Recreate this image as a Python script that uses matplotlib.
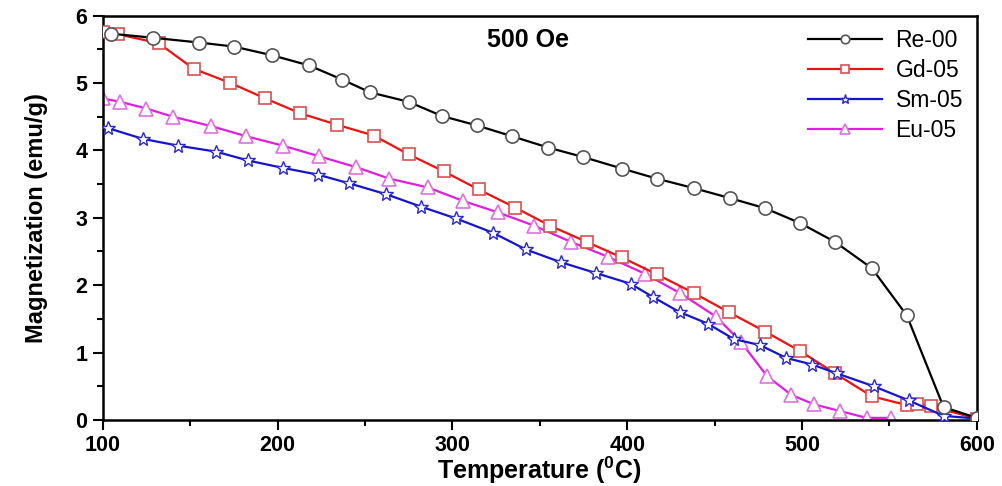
"""
Magnetization vs temperature at 500 Oe for the doped samples.
"""

import matplotlib
matplotlib.use('Agg')
import matplotlib.pyplot as plt
from matplotlib.ticker import MultipleLocator

plt.rcParams['font.family'] = ['Liberation Sans', 'DejaVu Sans']
plt.rcParams['mathtext.fontset'] = 'custom'
plt.rcParams['mathtext.rm'] = 'Liberation Sans:bold'
plt.rcParams['mathtext.bf'] = 'Liberation Sans:bold'

# Data
# ----------------------------------------------------------------------------

re_t = [105, 129, 155, 175, 197, 218, 237, 253, 275, 294, 314, 334, 355,
        375, 397, 417, 438, 459, 479, 499, 519, 540, 560, 581, 600]
re_m = [5.73, 5.67, 5.60, 5.54, 5.41, 5.26, 5.05, 4.86, 4.72, 4.51, 4.37,
        4.21, 4.04, 3.90, 3.73, 3.58, 3.44, 3.29, 3.14, 2.92, 2.64, 2.25,
        1.55, 0.19, 0.03]

gd_t = [100, 109, 132, 152, 173, 193, 213, 234, 255, 275, 295, 315, 336,
        356, 377, 397, 417, 438, 458, 479, 499, 519, 540, 560, 566, 574, 600]
gd_m = [5.76, 5.72, 5.59, 5.21, 5.00, 4.77, 4.55, 4.38, 4.22, 3.94, 3.69,
        3.42, 3.15, 2.88, 2.64, 2.41, 2.16, 1.885, 1.60, 1.31, 1.02, 0.69,
        0.35, 0.22, 0.24, 0.20, 0.02]

sm_t = [103, 123, 143, 165, 183, 203, 223, 241, 262, 282, 302, 323, 342,
        362, 382, 402, 415, 430, 446, 461, 476, 491, 506, 520, 541, 561,
        581, 600]
sm_m = [4.33, 4.17, 4.07, 3.98, 3.85, 3.74, 3.64, 3.51, 3.35, 3.165, 2.99,
        2.78, 2.53, 2.34, 2.18, 2.02, 1.82, 1.60, 1.43, 1.20, 1.11, 0.92,
        0.82, 0.69, 0.50, 0.29, 0.06, 0.02]

eu_t = [100, 110, 125, 140, 162, 182, 203, 224, 245, 264, 286, 306, 326,
        347, 368, 389, 410, 430, 451, 465, 480, 494, 507, 522, 537, 551]
eu_m = [4.77, 4.72, 4.62, 4.50, 4.36, 4.21, 4.07, 3.91, 3.75, 3.58, 3.45,
        3.25, 3.08, 2.88, 2.64, 2.42, 2.17, 1.885, 1.53, 1.16, 0.65, 0.37,
        0.23, 0.13, 0.03, 0.03]

# Plot
# ----------------------------------------------------------------------------

fig = plt.figure(figsize=(10.02, 4.86), dpi=100)
ax = fig.add_axes([0.1025, 0.136, 0.8723, 0.832])

ax.plot(re_t, re_m, '-o', color='black', lw=1.6, ms=9.5, mfc='white',
        mec='#555555', mew=1.2, label='Re-00', zorder=5)
ax.plot(gd_t, gd_m, '-s', color='#ee1111', lw=1.6, ms=8.5, mfc='white',
        mec='#d85050', mew=1.2, label='Gd-05', zorder=3)
ax.plot(sm_t, sm_m, '-*', color='#1515cc', lw=1.6, ms=10.5, mfc='white',
        mec='#2a2acc', mew=1.0, label='Sm-05', zorder=4)
ax.plot(eu_t, eu_m, '-^', color='#e01ee0', lw=1.6, ms=10.5, mfc='white',
        mec='#e070e0', mew=1.2, label='Eu-05', zorder=2)

ax.set_xlim(100, 600)
ax.set_ylim(0, 6)
ax.xaxis.set_major_locator(MultipleLocator(100))
ax.xaxis.set_minor_locator(MultipleLocator(50))
ax.yaxis.set_major_locator(MultipleLocator(1))
ax.yaxis.set_minor_locator(MultipleLocator(0.5))
ax.tick_params(which='both', direction='out', width=1.5, top=False, right=False)
ax.tick_params(which='major', length=7, labelsize=15.5, pad=4)
ax.tick_params(which='minor', length=4)
for lbl in ax.get_xticklabels() + ax.get_yticklabels():
    lbl.set_fontweight('bold')
for sp in ax.spines.values():
    sp.set_linewidth(1.8)

ax.set_xlabel('Temperature ($\\mathbf{^0}$C)', fontsize=18,
              fontweight='bold', labelpad=-1)
ax.set_ylabel('Magnetization (emu/g)', fontsize=17, fontweight='bold',
              labelpad=20)
ax.text(0.487, 0.94, '500 Oe', transform=ax.transAxes, ha='center',
        va='center', fontsize=18, fontweight='bold')

ax.legend(loc='upper right', frameon=False, fontsize=16.5, handlelength=3.2,
          markerscale=0.65, labelspacing=0.3, borderaxespad=0.2,
          handletextpad=0.6)

fig.savefig('out.png', dpi=100)
